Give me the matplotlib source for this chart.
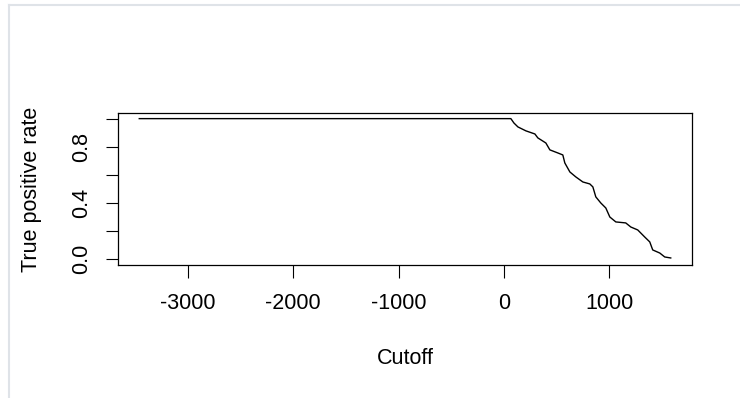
import numpy as np
import matplotlib
matplotlib.use('Agg')
import matplotlib.pyplot as plt
from matplotlib.lines import Line2D

plt.rcParams['font.family'] = ['Liberation Sans', 'DejaVu Sans']

# cutoff vs true positive rate
cutoff = [-3460, 66, 95, 133, 209, 294, 322, 398, 436, 512, 559, 578, 626,
          682, 749, 815, 844, 872, 919, 967, 1005, 1062, 1156, 1204, 1270,
          1336, 1384, 1412, 1479, 1526, 1583]
tpr = [1.0, 1.0, 0.969, 0.941, 0.913, 0.891, 0.863, 0.827, 0.778, 0.756,
       0.742, 0.685, 0.621, 0.586, 0.550, 0.536, 0.515, 0.444, 0.401, 0.365,
       0.301, 0.266, 0.259, 0.230, 0.209, 0.159, 0.124, 0.067, 0.045, 0.017,
       0.010]
xticks = [-3000, -2000, -1000, 0, 1000]
yticks = [0.0, 0.2, 0.4, 0.6, 0.8, 1.0]
ylabels = ['0.0', '', '0.4', '', '0.8', '']

fig = plt.figure(figsize=(7.4, 3.98), dpi=100)
ax = fig.add_axes([118 / 740, 1 - 265 / 398, (692 - 118) / 740, (265 - 113) / 398])
ax.plot(cutoff, tpr, color='black', lw=1.0)

rng = max(cutoff) - min(cutoff)
ax.set_xlim(min(cutoff) - 0.04 * rng, max(cutoff) + 0.04 * rng)
ax.set_ylim(-0.04, 1.04)
ax.set_xticks(xticks)
ax.set_xticklabels([str(v) for v in xticks])
ax.set_yticks(yticks)
ax.set_yticklabels(ylabels, rotation=90, va='center')
ax.tick_params(length=9, width=0.8, labelsize=15.5, pad=11)
ax.tick_params(axis='y', pad=9.5)
for s in ax.spines.values():
    s.set_linewidth(0.9)
ax.set_xlabel('Cutoff', fontsize=15.5, labelpad=25)
ax.set_ylabel('True positive rate', fontsize=15.5, labelpad=21)

# light frame of the viewer
fig.add_artist(Line2D([9 / 740, 1], [1 - 5 / 398, 1 - 5 / 398], color='#dfe3e8', lw=1.5))
fig.add_artist(Line2D([9 / 740, 9 / 740], [0, 1 - 5 / 398], color='#dfe3e8', lw=1.5))

fig.savefig('out.png', dpi=100)
print('wrote out.png')
